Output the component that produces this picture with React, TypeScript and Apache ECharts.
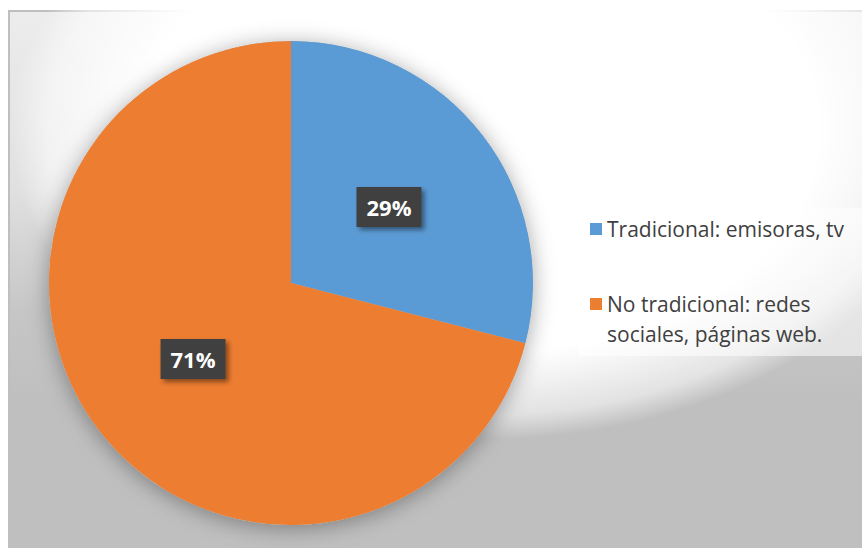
import { useEffect, useRef } from 'react';
import * as echarts from 'echarts';

const categories = ['Tradicional: emisoras, tv', 'No tradicional: redes sociales, páginas web.'];
const values = [29, 71];
const colors = ['#5B9BD5', '#ED7D31'];
const legendLines = [['Tradicional: emisoras, tv'], ['No tradicional: redes', 'sociales, páginas web.']];

export default function App() {
  const ref = useRef<HTMLDivElement>(null);
  useEffect(() => {
    const chart = echarts.init(ref.current!, null, { renderer: 'svg' });
    const total = values.reduce((a, b) => a + b, 0);
    const center = [291, 283];
    const radius = 242;
    const legendText = {
      color: '#404040',
      fontSize: 21,
      fontFamily: 'Open Sans',
      lineHeight: 30,
    };
    chart.setOption({
      animation: false,
      backgroundColor: '#ffffff',
      graphic: [
        {
          type: 'rect',
          silent: true,
          z: 0,
          shape: { x: 9, y: 11, width: 900, height: 600 },
          style: {
            fill: new echarts.graphic.LinearGradient(0, 0, 0, 1, [
              { offset: 0, color: '#ececec' },
              { offset: 0.3, color: '#e0e0e0' },
              { offset: 0.5, color: '#c6c6c6' },
              { offset: 0.65, color: '#bfbfbf' },
              { offset: 1, color: '#bfbfbf' },
            ]),
            stroke: '#bfbfbf',
            lineWidth: 2,
          },
        },
        {
          type: 'circle',
          silent: true,
          z: 0,
          x: 480,
          y: 130,
          scaleX: 470 / 300,
          scaleY: 310 / 300,
          shape: { cx: 0, cy: 0, r: 300 },
          style: {
            fill: new echarts.graphic.RadialGradient(0.5, 0.5, 0.5, [
              { offset: 0, color: 'rgba(255,255,255,1)' },
              { offset: 0.72, color: 'rgba(255,255,255,1)' },
              { offset: 0.92, color: 'rgba(255,255,255,0.55)' },
              { offset: 1, color: 'rgba(255,255,255,0)' },
            ]),
          },
        },
        {
          type: 'rect',
          silent: true,
          z: 3,
          shape: { x: 578, y: 208, width: 284, height: 148 },
          style: { fill: 'rgba(255,255,255,0.55)' },
        },
      ],
      legend: [
        {
          data: [{ name: categories[0] }],
          left: 590,
          top: 214,
          orient: 'vertical',
          padding: 0,
          itemGap: 0,
          itemWidth: 12,
          itemHeight: 12,
          icon: 'rect',
          selectedMode: false,
          textStyle: legendText,
          formatter: () => legendLines[0].join('\n'),
        },
        {
          data: [{ name: categories[1] }],
          left: 590,
          top: 259,
          orient: 'vertical',
          padding: 0,
          itemGap: 0,
          itemWidth: 12,
          itemHeight: 12,
          icon: 'rect',
          selectedMode: false,
          textStyle: {
            ...legendText,
            rich: {
              p: { fontSize: 21, lineHeight: 30 },
              a: { ...legendText },
            },
          },
          formatter: () => '{p| }\n' + legendLines[1].map((l) => '{a|' + l + '}').join('\n'),
        },
      ],
      series: [
        {
          type: 'pie',
          name: 'sombra',
          silent: true,
          z: 1,
          center,
          radius,
          data: [
            {
              name: 'sombra',
              value: total,
              itemStyle: {
                color: '#bfbfbf',
                shadowBlur: 22,
                shadowColor: 'rgba(0,0,0,0.35)',
                shadowOffsetY: 3,
              },
            },
          ],
          label: { show: false },
          labelLine: { show: false },
          emphasis: { disabled: true },
        },
        {
          type: 'pie',
          name: 'Medios',
          z: 2,
          center,
          radius,
          startAngle: 90,
          clockwise: true,
          data: categories.map((n, i) => ({ name: n, value: values[i], itemStyle: { color: colors[i] } })),
          label: {
            show: true,
            position: 'inside',
            formatter: (p: any) => Math.round(p.percent) + '%',
            color: '#ffffff',
            fontWeight: 'bold',
            fontSize: 22,
            fontFamily: 'Open Sans',
            lineHeight: 28,
            backgroundColor: '#3f3f3f',
            padding: [6, 10],
            shadowColor: 'rgba(0,0,0,0.45)',
            shadowBlur: 5,
            shadowOffsetX: 3,
            shadowOffsetY: 3,
          },
          labelLine: { show: false },
          emphasis: { disabled: true },
        },
      ],
    });
    return () => chart.dispose();
  }, []);
  return <div ref={ref} style={{ position: 'fixed', left: 0, top: 0, width: 862, height: 548 }} />;
}
